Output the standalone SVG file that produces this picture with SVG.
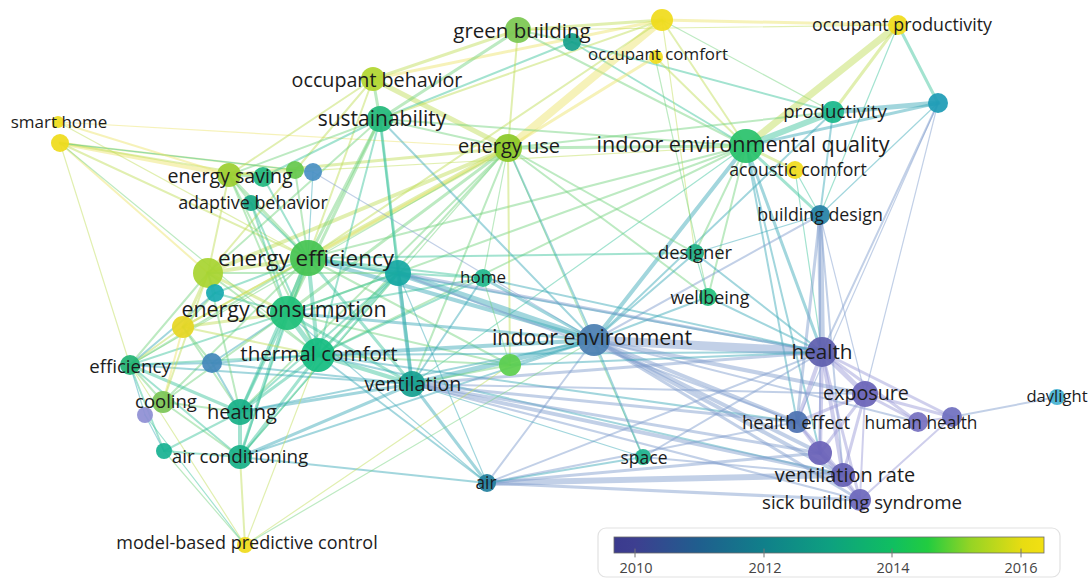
<svg xmlns="http://www.w3.org/2000/svg" width="1092" height="579" viewBox="0 0 1092 579">
<defs>
<linearGradient id="yr" x1="0" y1="0" x2="1" y2="0">
<stop offset="0" stop-color="#3b3a8e"/>
<stop offset="0.05" stop-color="#3d3f90"/>
<stop offset="0.2" stop-color="#1f5f8e"/>
<stop offset="0.35" stop-color="#10808a"/>
<stop offset="0.5" stop-color="#0ea080"/>
<stop offset="0.65" stop-color="#10bf60"/>
<stop offset="0.73" stop-color="#22cc40"/>
<stop offset="0.83" stop-color="#96d424"/>
<stop offset="0.95" stop-color="#e8dc12"/>
<stop offset="1" stop-color="#f2e012"/>
</linearGradient>
</defs>
<style>
line{stroke-opacity:0.47;stroke-linecap:round;fill:none}
.py{stroke:#ebe46a}.yg{stroke:#c0dc58}.g{stroke:#72d27e}.gt{stroke:#3cc49c}.t{stroke:#3aa8b6}.b{stroke:#7d9ccc}.p{stroke:#9a98d6}
.w1{stroke-width:1.2}.w2{stroke-width:2}.w3{stroke-width:3}.w4{stroke-width:4}.w5{stroke-width:5}.w6{stroke-width:6}.w7{stroke-width:7}.w8{stroke-width:8}.w9{stroke-width:9}
circle{fill-opacity:0.93}
text{font-family:"Open Sans","Noto Sans","DejaVu Sans",sans-serif;fill:#1c1c1c;text-anchor:middle}
.lg{font-size:14.5px;fill:#454545}
</style>
<rect width="1092" height="579" fill="#ffffff"/>
<g id="connectors">
<line x1="60" y1="143" x2="229" y2="175" class="py w4"/>
<line x1="60" y1="143" x2="263" y2="177" class="yg w2"/>
<line x1="60" y1="143" x2="295" y2="170" class="yg w2"/>
<line x1="60" y1="143" x2="313" y2="172" class="gt w1"/>
<line x1="60" y1="143" x2="308" y2="258" class="yg w2"/>
<line x1="60" y1="143" x2="208" y2="273" class="py w2"/>
<line x1="60" y1="143" x2="130" y2="365" class="yg w1"/>
<line x1="60" y1="143" x2="318" y2="355" class="g w1"/>
<line x1="58" y1="122" x2="508" y2="148" class="py w1"/>
<line x1="58" y1="122" x2="308" y2="258" class="yg w1"/>
<line x1="58" y1="122" x2="229" y2="175" class="py w2"/>
<line x1="373" y1="79" x2="662" y2="20" class="py w3"/>
<line x1="373" y1="79" x2="508" y2="148" class="yg w5"/>
<line x1="373" y1="79" x2="380" y2="119" class="g w3"/>
<line x1="373" y1="79" x2="518" y2="30" class="yg w3"/>
<line x1="373" y1="79" x2="229" y2="175" class="yg w2"/>
<line x1="373" y1="79" x2="308" y2="258" class="yg w2"/>
<line x1="373" y1="79" x2="208" y2="273" class="yg w2"/>
<line x1="380" y1="119" x2="572" y2="42" class="gt w2"/>
<line x1="518" y1="30" x2="662" y2="20" class="yg w3"/>
<line x1="518" y1="30" x2="380" y2="119" class="g w3"/>
<line x1="518" y1="30" x2="508" y2="148" class="yg w2"/>
<line x1="518" y1="30" x2="572" y2="42" class="g w2"/>
<line x1="518" y1="30" x2="746" y2="146" class="g w2"/>
<line x1="518" y1="30" x2="898" y2="25" class="yg w1"/>
<line x1="572" y1="42" x2="746" y2="146" class="gt w2"/>
<line x1="572" y1="42" x2="833" y2="112" class="gt w2"/>
<line x1="662" y1="20" x2="898" y2="25" class="py w3"/>
<line x1="662" y1="20" x2="508" y2="148" class="py w8"/>
<line x1="662" y1="20" x2="746" y2="146" class="yg w2"/>
<line x1="662" y1="20" x2="308" y2="258" class="yg w2"/>
<line x1="662" y1="20" x2="833" y2="112" class="g w1"/>
<line x1="662" y1="20" x2="695" y2="253" class="yg w1"/>
<line x1="662" y1="20" x2="380" y2="119" class="yg w2"/>
<line x1="655" y1="57" x2="508" y2="148" class="py w3"/>
<line x1="655" y1="57" x2="746" y2="146" class="yg w2"/>
<line x1="655" y1="57" x2="708" y2="297" class="g w1"/>
<line x1="898" y1="25" x2="746" y2="146" class="yg w7"/>
<line x1="898" y1="25" x2="833" y2="112" class="yg w3"/>
<line x1="898" y1="25" x2="938" y2="103" class="gt w3"/>
<line x1="898" y1="25" x2="820" y2="215" class="gt w1"/>
<line x1="938" y1="103" x2="833" y2="112" class="t w5"/>
<line x1="938" y1="103" x2="746" y2="146" class="t w3"/>
<line x1="938" y1="103" x2="822" y2="352" class="b w2"/>
<line x1="938" y1="103" x2="865" y2="394" class="b w1"/>
<line x1="938" y1="103" x2="797" y2="422" class="b w1"/>
<line x1="938" y1="103" x2="820" y2="215" class="t w1"/>
<line x1="833" y1="112" x2="746" y2="146" class="gt w6"/>
<line x1="833" y1="112" x2="508" y2="148" class="g w2"/>
<line x1="833" y1="112" x2="594" y2="340" class="t w2"/>
<line x1="833" y1="112" x2="820" y2="215" class="t w2"/>
<line x1="746" y1="146" x2="795" y2="170" class="yg w3"/>
<line x1="746" y1="146" x2="820" y2="215" class="gt w3"/>
<line x1="746" y1="146" x2="508" y2="148" class="g w3"/>
<line x1="746" y1="146" x2="380" y2="119" class="g w2"/>
<line x1="746" y1="146" x2="308" y2="258" class="g w2"/>
<line x1="746" y1="146" x2="594" y2="340" class="t w4"/>
<line x1="746" y1="146" x2="822" y2="352" class="t w3"/>
<line x1="746" y1="146" x2="695" y2="253" class="g w2"/>
<line x1="746" y1="146" x2="708" y2="297" class="g w2"/>
<line x1="746" y1="146" x2="797" y2="422" class="t w2"/>
<line x1="746" y1="146" x2="318" y2="355" class="g w2"/>
<line x1="746" y1="146" x2="287" y2="313" class="g w2"/>
<line x1="746" y1="146" x2="412" y2="384" class="gt w1"/>
<line x1="746" y1="146" x2="820" y2="453" class="t w2"/>
<line x1="746" y1="146" x2="229" y2="175" class="yg w1"/>
<line x1="795" y1="170" x2="820" y2="215" class="gt w1"/>
<line x1="795" y1="170" x2="822" y2="352" class="gt w1"/>
<line x1="820" y1="215" x2="822" y2="352" class="b w6"/>
<line x1="820" y1="215" x2="797" y2="422" class="b w3"/>
<line x1="820" y1="215" x2="820" y2="453" class="b w2"/>
<line x1="820" y1="215" x2="594" y2="340" class="b w2"/>
<line x1="820" y1="215" x2="865" y2="394" class="b w1"/>
<line x1="820" y1="215" x2="843" y2="475" class="b w2"/>
<line x1="508" y1="148" x2="308" y2="258" class="yg w5"/>
<line x1="508" y1="148" x2="208" y2="273" class="yg w4"/>
<line x1="508" y1="148" x2="287" y2="313" class="g w3"/>
<line x1="508" y1="148" x2="380" y2="119" class="g w2"/>
<line x1="508" y1="148" x2="229" y2="175" class="yg w3"/>
<line x1="508" y1="148" x2="318" y2="355" class="g w2"/>
<line x1="508" y1="148" x2="594" y2="340" class="t w2"/>
<line x1="508" y1="148" x2="695" y2="253" class="g w2"/>
<line x1="508" y1="148" x2="708" y2="297" class="g w2"/>
<line x1="508" y1="148" x2="412" y2="384" class="g w2"/>
<line x1="508" y1="148" x2="240" y2="412" class="g w2"/>
<line x1="508" y1="148" x2="130" y2="365" class="g w1"/>
<line x1="508" y1="148" x2="183" y2="327" class="py w2"/>
<line x1="508" y1="148" x2="510" y2="365" class="yg w2"/>
<line x1="508" y1="148" x2="240" y2="457" class="g w1"/>
<line x1="508" y1="148" x2="483" y2="278" class="g w1"/>
<line x1="508" y1="148" x2="643" y2="457" class="g w1"/>
<line x1="380" y1="119" x2="308" y2="258" class="g w3"/>
<line x1="380" y1="119" x2="287" y2="313" class="g w3"/>
<line x1="380" y1="119" x2="229" y2="175" class="g w2"/>
<line x1="380" y1="119" x2="318" y2="355" class="gt w2"/>
<line x1="380" y1="119" x2="412" y2="384" class="gt w3"/>
<line x1="380" y1="119" x2="594" y2="340" class="t w2"/>
<line x1="380" y1="119" x2="263" y2="177" class="gt w2"/>
<line x1="380" y1="119" x2="398" y2="273" class="gt w2"/>
<line x1="380" y1="119" x2="208" y2="273" class="g w2"/>
<line x1="229" y1="175" x2="308" y2="258" class="g w3"/>
<line x1="229" y1="175" x2="287" y2="313" class="g w2"/>
<line x1="229" y1="175" x2="208" y2="273" class="yg w2"/>
<line x1="229" y1="175" x2="263" y2="177" class="g w2"/>
<line x1="229" y1="175" x2="251" y2="203" class="g w2"/>
<line x1="229" y1="175" x2="318" y2="355" class="g w2"/>
<line x1="263" y1="177" x2="308" y2="258" class="gt w2"/>
<line x1="295" y1="170" x2="308" y2="258" class="g w2"/>
<line x1="313" y1="172" x2="308" y2="258" class="t w1"/>
<line x1="313" y1="172" x2="594" y2="340" class="b w1"/>
<line x1="251" y1="203" x2="308" y2="258" class="gt w2"/>
<line x1="251" y1="203" x2="287" y2="313" class="gt w2"/>
<line x1="251" y1="203" x2="318" y2="355" class="gt w2"/>
<line x1="308" y1="258" x2="287" y2="313" class="g w6"/>
<line x1="308" y1="258" x2="208" y2="273" class="yg w4"/>
<line x1="308" y1="258" x2="318" y2="355" class="gt w4"/>
<line x1="308" y1="258" x2="398" y2="273" class="gt w4"/>
<line x1="308" y1="258" x2="594" y2="340" class="t w4"/>
<line x1="308" y1="258" x2="412" y2="384" class="gt w3"/>
<line x1="308" y1="258" x2="240" y2="412" class="gt w3"/>
<line x1="308" y1="258" x2="240" y2="457" class="gt w2"/>
<line x1="308" y1="258" x2="130" y2="365" class="g w2"/>
<line x1="308" y1="258" x2="183" y2="327" class="yg w2"/>
<line x1="308" y1="258" x2="483" y2="278" class="gt w2"/>
<line x1="308" y1="258" x2="695" y2="253" class="gt w2"/>
<line x1="308" y1="258" x2="510" y2="365" class="g w2"/>
<line x1="308" y1="258" x2="215" y2="293" class="gt w2"/>
<line x1="308" y1="258" x2="822" y2="352" class="t w2"/>
<line x1="308" y1="258" x2="163" y2="402" class="g w2"/>
<line x1="287" y1="313" x2="318" y2="355" class="gt w5"/>
<line x1="287" y1="313" x2="208" y2="273" class="yg w3"/>
<line x1="287" y1="313" x2="183" y2="327" class="yg w3"/>
<line x1="287" y1="313" x2="240" y2="412" class="gt w3"/>
<line x1="287" y1="313" x2="240" y2="457" class="gt w3"/>
<line x1="287" y1="313" x2="130" y2="365" class="gt w2"/>
<line x1="287" y1="313" x2="412" y2="384" class="gt w3"/>
<line x1="287" y1="313" x2="594" y2="340" class="t w3"/>
<line x1="287" y1="313" x2="398" y2="273" class="gt w2"/>
<line x1="287" y1="313" x2="212" y2="363" class="t w2"/>
<line x1="287" y1="313" x2="163" y2="402" class="g w2"/>
<line x1="287" y1="313" x2="215" y2="293" class="gt w2"/>
<line x1="287" y1="313" x2="510" y2="365" class="g w2"/>
<line x1="287" y1="313" x2="483" y2="278" class="gt w2"/>
<line x1="287" y1="313" x2="487" y2="483" class="t w1"/>
<line x1="318" y1="355" x2="240" y2="412" class="gt w3"/>
<line x1="318" y1="355" x2="412" y2="384" class="gt w4"/>
<line x1="318" y1="355" x2="594" y2="340" class="t w4"/>
<line x1="318" y1="355" x2="240" y2="457" class="gt w3"/>
<line x1="318" y1="355" x2="398" y2="273" class="gt w3"/>
<line x1="318" y1="355" x2="130" y2="365" class="gt w2"/>
<line x1="318" y1="355" x2="208" y2="273" class="g w2"/>
<line x1="318" y1="355" x2="183" y2="327" class="yg w2"/>
<line x1="318" y1="355" x2="822" y2="352" class="t w2"/>
<line x1="318" y1="355" x2="843" y2="475" class="t w2"/>
<line x1="318" y1="355" x2="483" y2="278" class="gt w2"/>
<line x1="318" y1="355" x2="510" y2="365" class="g w2"/>
<line x1="318" y1="355" x2="487" y2="483" class="t w2"/>
<line x1="318" y1="355" x2="212" y2="363" class="t w2"/>
<line x1="318" y1="355" x2="797" y2="422" class="t w2"/>
<line x1="594" y1="340" x2="822" y2="352" class="b w9"/>
<line x1="594" y1="340" x2="412" y2="384" class="t w5"/>
<line x1="594" y1="340" x2="398" y2="273" class="t w6"/>
<line x1="594" y1="340" x2="865" y2="394" class="b w4"/>
<line x1="594" y1="340" x2="820" y2="453" class="b w4"/>
<line x1="594" y1="340" x2="843" y2="475" class="b w4"/>
<line x1="594" y1="340" x2="860" y2="500" class="b w3"/>
<line x1="594" y1="340" x2="797" y2="422" class="b w4"/>
<line x1="594" y1="340" x2="695" y2="253" class="t w2"/>
<line x1="594" y1="340" x2="708" y2="297" class="t w2"/>
<line x1="594" y1="340" x2="483" y2="278" class="t w3"/>
<line x1="594" y1="340" x2="487" y2="483" class="b w2"/>
<line x1="594" y1="340" x2="643" y2="457" class="t w2"/>
<line x1="594" y1="340" x2="510" y2="365" class="t w2"/>
<line x1="594" y1="340" x2="240" y2="412" class="t w2"/>
<line x1="594" y1="340" x2="240" y2="457" class="t w2"/>
<line x1="594" y1="340" x2="918" y2="422" class="b w2"/>
<line x1="822" y1="352" x2="865" y2="394" class="p w5"/>
<line x1="822" y1="352" x2="797" y2="422" class="p w4"/>
<line x1="822" y1="352" x2="820" y2="453" class="p w4"/>
<line x1="822" y1="352" x2="843" y2="475" class="p w4"/>
<line x1="822" y1="352" x2="860" y2="500" class="p w3"/>
<line x1="822" y1="352" x2="918" y2="422" class="p w3"/>
<line x1="822" y1="352" x2="952" y2="417" class="p w3"/>
<line x1="822" y1="352" x2="412" y2="384" class="b w3"/>
<line x1="822" y1="352" x2="398" y2="273" class="b w3"/>
<line x1="822" y1="352" x2="695" y2="253" class="t w2"/>
<line x1="822" y1="352" x2="708" y2="297" class="t w2"/>
<line x1="822" y1="352" x2="483" y2="278" class="t w2"/>
<line x1="822" y1="352" x2="487" y2="483" class="b w2"/>
<line x1="865" y1="394" x2="918" y2="422" class="p w3"/>
<line x1="865" y1="394" x2="952" y2="417" class="p w3"/>
<line x1="865" y1="394" x2="797" y2="422" class="p w3"/>
<line x1="865" y1="394" x2="820" y2="453" class="p w3"/>
<line x1="865" y1="394" x2="843" y2="475" class="p w3"/>
<line x1="865" y1="394" x2="860" y2="500" class="p w2"/>
<line x1="865" y1="394" x2="412" y2="384" class="b w2"/>
<line x1="952" y1="417" x2="1057" y2="397" class="b w2"/>
<line x1="918" y1="422" x2="952" y2="417" class="p w2"/>
<line x1="952" y1="417" x2="860" y2="500" class="p w2"/>
<line x1="797" y1="422" x2="820" y2="453" class="p w3"/>
<line x1="797" y1="422" x2="843" y2="475" class="p w3"/>
<line x1="797" y1="422" x2="412" y2="384" class="b w3"/>
<line x1="797" y1="422" x2="398" y2="273" class="b w2"/>
<line x1="820" y1="453" x2="843" y2="475" class="p w3"/>
<line x1="820" y1="453" x2="860" y2="500" class="p w3"/>
<line x1="843" y1="475" x2="860" y2="500" class="p w3"/>
<line x1="843" y1="475" x2="412" y2="384" class="b w4"/>
<line x1="843" y1="475" x2="487" y2="483" class="b w6"/>
<line x1="860" y1="500" x2="487" y2="483" class="b w3"/>
<line x1="820" y1="453" x2="487" y2="483" class="b w3"/>
<line x1="820" y1="453" x2="412" y2="384" class="b w3"/>
<line x1="860" y1="500" x2="412" y2="384" class="b w2"/>
<line x1="843" y1="475" x2="643" y2="457" class="b w2"/>
<line x1="797" y1="422" x2="487" y2="483" class="b w2"/>
<line x1="412" y1="384" x2="398" y2="273" class="t w4"/>
<line x1="412" y1="384" x2="240" y2="412" class="t w3"/>
<line x1="412" y1="384" x2="240" y2="457" class="t w3"/>
<line x1="412" y1="384" x2="487" y2="483" class="t w3"/>
<line x1="412" y1="384" x2="510" y2="365" class="g w2"/>
<line x1="412" y1="384" x2="483" y2="278" class="t w2"/>
<line x1="412" y1="384" x2="130" y2="365" class="t w2"/>
<line x1="412" y1="384" x2="212" y2="363" class="t w2"/>
<line x1="130" y1="365" x2="212" y2="363" class="t w2"/>
<line x1="130" y1="365" x2="183" y2="327" class="yg w2"/>
<line x1="130" y1="365" x2="208" y2="273" class="g w2"/>
<line x1="130" y1="365" x2="163" y2="402" class="g w2"/>
<line x1="130" y1="365" x2="240" y2="412" class="gt w3"/>
<line x1="130" y1="365" x2="240" y2="457" class="gt w2"/>
<line x1="130" y1="365" x2="164" y2="451" class="gt w2"/>
<line x1="130" y1="365" x2="145" y2="415" class="t w1"/>
<line x1="130" y1="365" x2="215" y2="293" class="t w2"/>
<line x1="163" y1="402" x2="240" y2="412" class="g w2"/>
<line x1="163" y1="402" x2="240" y2="457" class="g w2"/>
<line x1="163" y1="402" x2="183" y2="327" class="py w2"/>
<line x1="163" y1="402" x2="208" y2="273" class="yg w2"/>
<line x1="145" y1="415" x2="164" y2="451" class="t w1"/>
<line x1="145" y1="415" x2="245" y2="545" class="gt w1"/>
<line x1="240" y1="412" x2="240" y2="457" class="gt w4"/>
<line x1="240" y1="412" x2="208" y2="273" class="g w2"/>
<line x1="240" y1="412" x2="183" y2="327" class="g w2"/>
<line x1="240" y1="412" x2="212" y2="363" class="t w2"/>
<line x1="240" y1="412" x2="398" y2="273" class="gt w2"/>
<line x1="240" y1="412" x2="164" y2="451" class="gt w2"/>
<line x1="240" y1="457" x2="164" y2="451" class="gt w2"/>
<line x1="240" y1="457" x2="245" y2="545" class="yg w2"/>
<line x1="240" y1="457" x2="398" y2="273" class="gt w2"/>
<line x1="240" y1="457" x2="487" y2="483" class="t w2"/>
<line x1="164" y1="451" x2="245" y2="545" class="g w1"/>
<line x1="245" y1="545" x2="510" y2="365" class="yg w1"/>
<line x1="245" y1="545" x2="594" y2="340" class="g w1"/>
<line x1="245" y1="545" x2="318" y2="355" class="yg w1"/>
<line x1="245" y1="545" x2="130" y2="365" class="yg w1"/>
<line x1="208" y1="273" x2="183" y2="327" class="yg w3"/>
<line x1="208" y1="273" x2="215" y2="293" class="g w2"/>
<line x1="183" y1="327" x2="212" y2="363" class="g w2"/>
<line x1="183" y1="327" x2="215" y2="293" class="g w2"/>
<line x1="208" y1="273" x2="398" y2="273" class="g w2"/>
<line x1="695" y1="253" x2="708" y2="297" class="gt w1"/>
<line x1="695" y1="253" x2="820" y2="215" class="t w1"/>
<line x1="483" y1="278" x2="398" y2="273" class="gt w2"/>
<line x1="483" y1="278" x2="510" y2="365" class="g w1"/>
<line x1="643" y1="457" x2="822" y2="352" class="b w2"/>
<line x1="643" y1="457" x2="487" y2="483" class="t w2"/>
<line x1="643" y1="457" x2="412" y2="384" class="t w1"/>
<line x1="487" y1="483" x2="398" y2="273" class="t w1"/>
<line x1="510" y1="365" x2="822" y2="352" class="t w2"/>
</g>
<g id="unlabeled-nodes">
<g id="n-smart-b"><circle cx="60" cy="143" r="9" fill="#efdc1c"/></g>
<g id="n-gb-teal"><circle cx="572" cy="42" r="9" fill="#17a08c"/></g>
<g id="n-top-yellow"><circle cx="662" cy="20" r="11" fill="#f0dc1c"/></g>
<g id="n-teal-right"><circle cx="938" cy="103" r="10" fill="#1e9cb6"/></g>
<g id="n-es-green"><circle cx="263" cy="177" r="10" fill="#22b880"/></g>
<g id="n-es-green2"><circle cx="295" cy="170" r="9" fill="#66c84e"/></g>
<g id="n-es-blue"><circle cx="313" cy="172" r="9" fill="#4a90c4"/></g>
<g id="n-ee-yg"><circle cx="208" cy="273" r="15" fill="#a8d432"/></g>
<g id="n-ee-teal"><circle cx="215" cy="293" r="9" fill="#18aab0"/></g>
<g id="n-ee-teal-r"><circle cx="398" cy="273" r="13" fill="#15a8a2"/></g>
<g id="n-ec-yellow"><circle cx="183" cy="327" r="11" fill="#e6d624"/></g>
<g id="n-ie-green"><circle cx="510" cy="365" r="11" fill="#5ccf4e"/></g>
<g id="n-ie-blue"><circle cx="212" cy="363" r="10" fill="#4388ba"/></g>
<g id="n-cool-lav"><circle cx="145" cy="415" r="8" fill="#8f8fd4"/></g>
<g id="n-ac-small"><circle cx="164" cy="451" r="8" fill="#18b292"/></g>
<g id="n-hh-right"><circle cx="952" cy="417" r="10" fill="#7070c0"/></g>
<g id="n-vr-upper"><circle cx="820" cy="453" r="12" fill="#6a62b8"/></g>
</g>
<g id="labeled-nodes">
<g id="n-smart-home"><circle cx="58" cy="122" r="6" fill="#efdc1c"/><text x="59" y="123" dy="0.32em" font-size="17">smart home</text></g>
<g id="n-green-building"><circle cx="518" cy="30" r="13" fill="#7cc852"/><text x="522" y="31" dy="0.32em" font-size="20.5">green building</text></g>
<g id="n-occupant-comfort"><circle cx="656" cy="57" r="7" fill="#f0dc1c"/><text x="658" y="55" dy="0.32em" font-size="16.9">occupant comfort</text></g>
<g id="n-occupant-productivity"><circle cx="898" cy="25" r="10" fill="#f0dc1c"/><text x="902" y="25" dy="0.32em" font-size="17.8">occupant productivity</text></g>
<g id="n-productivity"><circle cx="833" cy="112" r="11" fill="#1ab88c"/><text x="835" y="112" dy="0.32em" font-size="18.7">productivity</text></g>
<g id="n-ieq"><circle cx="746" cy="146" r="17" fill="#2ac26c"/><text x="743" y="145" dy="0.32em" font-size="21.6">indoor environmental quality</text></g>
<g id="n-acoustic"><circle cx="795" cy="170" r="9" fill="#f0dc1c"/><text x="798" y="170" dy="0.32em" font-size="17.7">acoustic comfort</text></g>
<g id="n-building-design"><circle cx="820" cy="215" r="10" fill="#2582a6"/><text x="820" y="215" dy="0.32em" font-size="17.8">building design</text></g>
<g id="n-occupant-behavior"><circle cx="373" cy="79" r="12" fill="#b2d630"/><text x="377" y="81" dy="0.32em" font-size="19.7">occupant behavior</text></g>
<g id="n-sustainability"><circle cx="380" cy="119" r="13" fill="#22b87a"/><text x="382" y="119" dy="0.32em" font-size="21">sustainability</text></g>
<g id="n-energy-use"><circle cx="508" cy="148" r="14" fill="#8cc828"/><text x="509" y="147" dy="0.32em" font-size="20">energy use</text></g>
<g id="n-energy-saving"><circle cx="229" cy="175" r="12" fill="#9ccf30"/><text x="230" y="177" dy="0.32em" font-size="19.6">energy saving</text></g>
<g id="n-adaptive"><circle cx="251" cy="203" r="8" fill="#18a884"/><text x="253" y="203" dy="0.32em" font-size="17.9">adaptive behavior</text></g>
<g id="n-energy-efficiency"><circle cx="308" cy="258" r="18" fill="#46c452"/><text x="306" y="259" dy="0.32em" font-size="22.5">energy efficiency</text></g>
<g id="n-home"><circle cx="483" cy="278" r="9" fill="#22b88e"/><text x="483" y="278" dy="0.32em" font-size="17">home</text></g>
<g id="n-designer"><circle cx="695" cy="253" r="9" fill="#1fae84"/><text x="695" y="253" dy="0.32em" font-size="18.4">designer</text></g>
<g id="n-wellbeing"><circle cx="708" cy="297" r="9" fill="#22c07c"/><text x="710" y="298" dy="0.32em" font-size="17.9">wellbeing</text></g>
<g id="n-energy-consumption"><circle cx="287" cy="313" r="17" fill="#1fc078"/><text x="284" y="310" dy="0.32em" font-size="21.4">energy consumption</text></g>
<g id="n-thermal-comfort"><circle cx="318" cy="355" r="17" fill="#14bc80"/><text x="319" y="354" dy="0.32em" font-size="20.6">thermal comfort</text></g>
<g id="n-indoor-environment"><circle cx="594" cy="340" r="16" fill="#4b7fb2"/><text x="592" y="338" dy="0.32em" font-size="21.4">indoor environment</text></g>
<g id="n-health"><circle cx="822" cy="352" r="15" fill="#5f5fae"/><text x="822" y="352" dy="0.32em" font-size="20.7">health</text></g>
<g id="n-efficiency"><circle cx="130" cy="365" r="10" fill="#22b474"/><text x="130" y="367" dy="0.32em" font-size="18.7">efficiency</text></g>
<g id="n-ventilation"><circle cx="412" cy="384" r="13" fill="#17a090"/><text x="413" y="385" dy="0.32em" font-size="19.7">ventilation</text></g>
<g id="n-exposure"><circle cx="865" cy="394" r="13" fill="#6a64b8"/><text x="866" y="394" dy="0.32em" font-size="19.7">exposure</text></g>
<g id="n-cooling"><circle cx="163" cy="402" r="11" fill="#7cc656"/><text x="166" y="402" dy="0.32em" font-size="18.5">cooling</text></g>
<g id="n-heating"><circle cx="240" cy="412" r="13" fill="#18b088"/><text x="242" y="413" dy="0.32em" font-size="20">heating</text></g>
<g id="n-health-effect"><circle cx="797" cy="422" r="11" fill="#4d72b2"/><text x="796" y="423" dy="0.32em" font-size="18.5">health effect</text></g>
<g id="n-human-health"><circle cx="918" cy="422" r="10" fill="#7670c0"/><text x="921" y="423" dy="0.32em" font-size="17.3">human health</text></g>
<g id="n-daylight"><circle cx="1057" cy="397" r="8" fill="#45b2d2"/><text x="1057" y="397" dy="0.32em" font-size="16.6">daylight</text></g>
<g id="n-ventilation-rate"><circle cx="843" cy="475" r="12" fill="#6460b4"/><text x="845" y="476" dy="0.32em" font-size="19.9">ventilation rate</text></g>
<g id="n-sbs"><circle cx="860" cy="500" r="11" fill="#6d68bc"/><text x="862" y="503" dy="0.32em" font-size="18.7">sick building syndrome</text></g>
<g id="n-air-conditioning"><circle cx="240" cy="457" r="12" fill="#18b088"/><text x="240" y="457" dy="0.32em" font-size="18.8">air conditioning</text></g>
<g id="n-space"><circle cx="643" cy="457" r="8" fill="#20b48e"/><text x="644" y="458" dy="0.32em" font-size="17.5">space</text></g>
<g id="n-air"><circle cx="487" cy="483" r="9" fill="#22809e"/><text x="486" y="483" dy="0.32em" font-size="17.3">air</text></g>
<g id="n-mbpc"><circle cx="245" cy="545" r="8" fill="#f0dc1c"/><text x="247" y="543" dy="0.32em" font-size="18">model-based predictive control</text></g>
</g>
<g id="legend">
<rect x="598" y="528" width="462" height="49" rx="8" fill="#ffffff" stroke="#e2e2e2" stroke-width="1.2"/>
<rect x="614" y="537" width="430" height="16" fill="url(#yr)" stroke="#6a6a6a" stroke-width="0.8"/>
<g stroke="#777" stroke-width="1">
<line x1="635" y1="549" x2="635" y2="557" style="stroke-opacity:1"/>
<line x1="764" y1="549" x2="764" y2="557" style="stroke-opacity:1"/>
<line x1="892" y1="549" x2="892" y2="557" style="stroke-opacity:1"/>
<line x1="1021" y1="549" x2="1021" y2="557" style="stroke-opacity:1"/>
</g>
<text class="lg" x="636" y="568" dy="0.35em">2010</text>
<text class="lg" x="765" y="568" dy="0.35em">2012</text>
<text class="lg" x="893" y="568" dy="0.35em">2014</text>
<text class="lg" x="1021" y="568" dy="0.35em">2016</text>
</g>
</svg>
